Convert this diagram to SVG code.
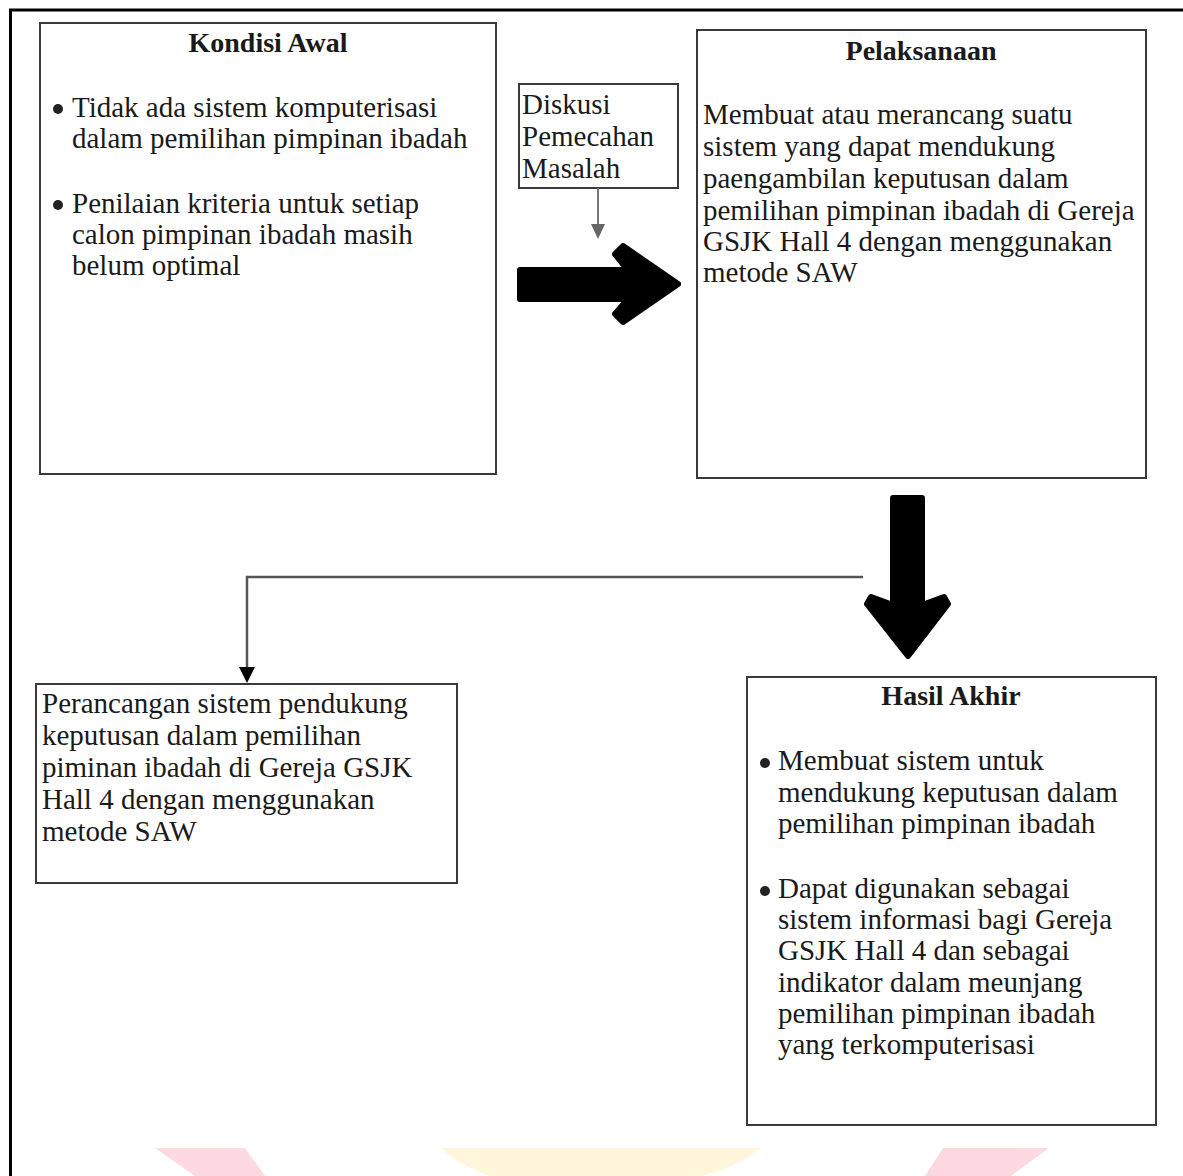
<svg xmlns="http://www.w3.org/2000/svg" width="1183" height="1176" viewBox="0 0 1183 1176">
<style>
.box{fill:#fff;stroke:#3a3a3a;stroke-width:2}
.t{font-family:"Liberation Serif","Times New Roman",serif;font-size:29px;fill:#1a1a1a}
.h{font-family:"Liberation Serif","Times New Roman",serif;font-size:28px;font-weight:bold;fill:#1a1a1a;text-anchor:middle}
.dot{fill:#222}
.blk{fill:#000;stroke:#000;stroke-width:6;stroke-linejoin:round}
.ln{fill:none;stroke:#555;stroke-width:2.5}
</style>
<rect width="1183" height="1176" fill="#fff"/>
<g id="watermark" opacity="0.85">
<polygon points="155,1148 245,1148 265,1176 195,1176" fill="#fcd3d9"/>
<path d="M441,1148 H762 Q735,1168 702,1176 H490 Q460,1166 441,1148 Z" fill="#fff5d6"/>
<polygon points="943,1148 1049,1148 1011,1176 925,1176" fill="#fcd3d9"/>
</g>
<path d="M10.5,1176 V10 H1183" fill="none" stroke="#000" stroke-width="3"/>
<g id="kondisi-awal">
<rect class="box" x="40" y="23" width="456" height="451"/>
<text class="h" x="268" y="52">Kondisi Awal</text>
<circle class="dot" cx="58" cy="109" r="5"/>
<text class="t" x="72" y="117">Tidak ada sistem komputerisasi</text>
<text class="t" x="72" y="148">dalam pemilihan pimpinan ibadah</text>
<circle class="dot" cx="58" cy="205" r="5"/>
<text class="t" x="72" y="213">Penilaian kriteria untuk setiap</text>
<text class="t" x="72" y="244">calon pimpinan ibadah masih</text>
<text class="t" x="72" y="275">belum optimal</text>
</g>
<g id="diskusi">
<rect class="box" x="519" y="84" width="159" height="104"/>
<text class="t" x="522" y="114">Diskusi</text>
<text class="t" x="522" y="146">Pemecahan</text>
<text class="t" x="522" y="178">Masalah</text>
</g>
<g id="pelaksanaan">
<rect class="box" x="697" y="30" width="449" height="448"/>
<text class="h" x="921" y="60">Pelaksanaan</text>
<text class="t" x="703" y="124">Membuat atau merancang suatu</text>
<text class="t" x="703" y="156">sistem yang dapat mendukung</text>
<text class="t" x="703" y="188">paengambilan keputusan dalam</text>
<text class="t" x="703" y="220">pemilihan pimpinan ibadah di Gereja</text>
<text class="t" x="703" y="251">GSJK Hall 4 dengan menggunakan</text>
<text class="t" x="703" y="282">metode SAW</text>
</g>
<g id="perancangan">
<rect class="box" x="36" y="684" width="421" height="199"/>
<text class="t" x="42" y="713">Perancangan sistem pendukung</text>
<text class="t" x="42" y="745">keputusan dalam pemilihan</text>
<text class="t" x="42" y="777">piminan ibadah di Gereja GSJK</text>
<text class="t" x="42" y="809">Hall 4 dengan menggunakan</text>
<text class="t" x="42" y="841">metode SAW</text>
</g>
<g id="hasil-akhir">
<rect class="box" x="747" y="677" width="409" height="448"/>
<text class="h" x="951" y="705">Hasil Akhir</text>
<circle class="dot" cx="765" cy="763" r="5"/>
<text class="t" x="778" y="770">Membuat sistem untuk</text>
<text class="t" x="778" y="802">mendukung keputusan dalam</text>
<text class="t" x="778" y="833">pemilihan pimpinan ibadah</text>
<circle class="dot" cx="765" cy="891" r="5"/>
<text class="t" x="778" y="898">Dapat digunakan sebagai</text>
<text class="t" x="778" y="929">sistem informasi bagi Gereja</text>
<text class="t" x="778" y="960">GSJK Hall 4 dan sebagai</text>
<text class="t" x="778" y="992">indikator dalam meunjang</text>
<text class="t" x="778" y="1023">pemilihan pimpinan ibadah</text>
<text class="t" x="778" y="1054">yang terkomputerisasi</text>
</g>
<g id="connectors">
<line x1="598" y1="188" x2="598" y2="225" stroke="#777" stroke-width="2"/>
<polygon points="591,224 605,224 598,239" fill="#666"/>
<polygon class="blk" points="520,270 628,270 615,254 623,246 678,284 623,322 615,314 628,299 520,299"/>
<polygon class="blk" points="893,498 922,498 922,605 944,597 948,604 908,656 867,604 871,597 893,605"/>
<path class="ln" d="M863,577 H247 V668"/>
<polygon points="239,667 255,667 247,683" fill="#000"/>
</g>
</svg>
